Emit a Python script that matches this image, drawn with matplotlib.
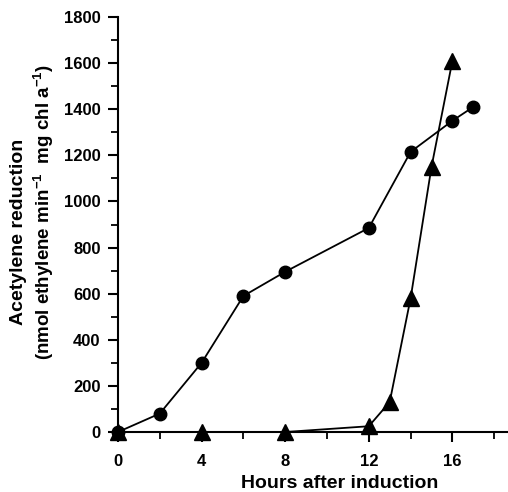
import matplotlib
matplotlib.use("Agg")
import matplotlib.pyplot as plt
from matplotlib.ticker import MultipleLocator

plt.rcParams['font.family'] = ['Liberation Sans', 'DejaVu Sans']
plt.rcParams['mathtext.fontset'] = 'custom'
plt.rcParams['mathtext.rm'] = 'Liberation Sans:bold'
plt.rcParams['mathtext.bf'] = 'Liberation Sans:bold'
plt.rcParams['mathtext.default'] = 'bf'

circle_hours = [0, 2, 4, 6, 8, 12, 14, 16, 17]
circle_values = [0, 80, 300, 590, 695, 885, 1215, 1350, 1410]
triangle_hours = [0, 4, 8, 12, 13, 14, 15, 16]
triangle_values = [0, 0, 0, 25, 130, 580, 1150, 1610]
x_ticks = [0, 4, 8, 12, 16]
y_ticks = [0, 200, 400, 600, 800, 1000, 1200, 1400, 1600, 1800]

fig = plt.figure(figsize=(5.08, 4.92), dpi=100)
ax = fig.add_axes([118/508, 1-432/492, 1-118/508, (432-17)/492])

ax.plot(circle_hours, circle_values, color='black', lw=1.3, marker='o',
        markersize=9, clip_on=False, zorder=3)
ax.plot(triangle_hours, triangle_values, color='black', lw=1.3, marker='^',
        markersize=11, clip_on=False, zorder=3)

ax.set_xlim(0, 18.66)
ax.set_ylim(0, 1800)
ax.set_xticks(x_ticks)
ax.set_yticks(y_ticks)
ax.xaxis.set_minor_locator(MultipleLocator(2))
ax.yaxis.set_minor_locator(MultipleLocator(100))
for s in ['top', 'right']:
    ax.spines[s].set_visible(False)
for s in ['left', 'bottom']:
    ax.spines[s].set_linewidth(1.5)
ax.tick_params(which='major', direction='out', length=7.5, width=1.5,
               labelsize=12)
ax.tick_params(axis='y', which='major', pad=5)
ax.tick_params(axis='x', which='major', pad=8)
ax.tick_params(which='minor', direction='out', length=5, width=1.3)
for lab in ax.get_xticklabels() + ax.get_yticklabels():
    lab.set_fontweight('bold')

fig.text(340/508, 1-488/492, 'Hours after induction', ha='center', va='baseline',
         fontsize=14, fontweight='bold')
fig.text(19/508, 1-232/492, 'Acetylene reduction', ha='center', va='center',
         rotation=90, fontsize=14, fontweight='bold')
fig.text(44/508, 1-212/492, r'(nmol ethylene min$^{-1}$  mg chl a$^{-1}$)',
         ha='center', va='center', rotation=90, fontsize=13.5, fontweight='bold')

fig.savefig('out.png', dpi=100)
